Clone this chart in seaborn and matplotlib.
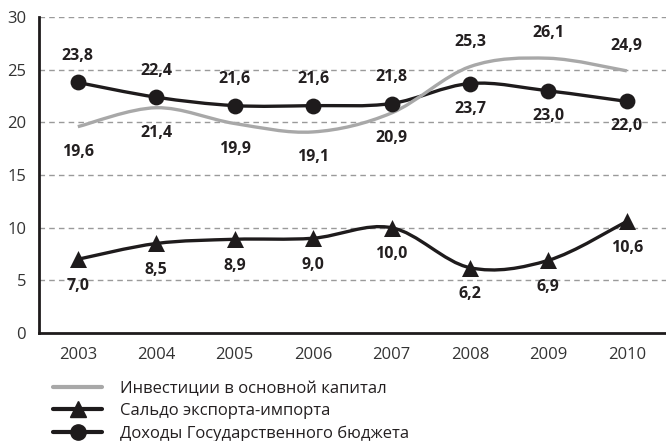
import numpy as np
import matplotlib
matplotlib.use("Agg")
import matplotlib.pyplot as plt
from matplotlib.path import Path
from matplotlib.patches import PathPatch
from matplotlib.lines import Line2D
import pandas as pd
import seaborn as sns

# data
years = ["2003", "2004", "2005", "2006", "2007", "2008", "2009", "2010"]
investments = [19.6, 21.4, 19.9, 19.1, 20.9, 25.3, 26.1, 24.9]
trade_balance = [7.0, 8.5, 8.9, 9.0, 10.0, 6.2, 6.9, 10.6]
budget_revenue = [23.8, 22.4, 21.6, 21.6, 21.8, 23.7, 23.0, 22.0]

names = ["Инвестиции в основной капитал",
         "Сальдо экспорта-импорта",
         "Доходы Государственного бюджета"]

sns.set_style("white")
plt.rcParams["font.family"] = ["Open Sans", "DejaVu Sans"]

df = pd.DataFrame({"x": np.arange(len(years)), "year": years,
                   "inv": investments, "trade": trade_balance,
                   "budget": budget_revenue})


def smooth_path(xs, ys):
    # excel-like smoothed line as cubic bezier segments
    pts = np.column_stack([xs, ys]).astype(float)
    n = len(pts)
    verts = [pts[0]]
    codes = [Path.MOVETO]
    for i in range(n - 1):
        p0 = pts[max(i - 1, 0)]
        p1 = pts[i]
        p2 = pts[i + 1]
        p3 = pts[min(i + 2, n - 1)]
        verts += [p1 + (p2 - p0) / 6, p2 - (p3 - p1) / 6, p2]
        codes += [Path.CURVE4] * 3
    return Path(verts, codes)


fig = plt.figure(figsize=(6.66, 4.41), dpi=100)
ax = fig.add_axes([0.058, 0.245, 0.942, 0.716])

gray = "#a8a8a8"
dark = "#1e1b1c"

ax.add_patch(PathPatch(smooth_path(df["x"], df["trade"]), fill=False,
                       edgecolor=dark, lw=2.4, zorder=2, capstyle="round"))
ax.add_patch(PathPatch(smooth_path(df["x"], df["budget"]), fill=False,
                       edgecolor=dark, lw=2.4, zorder=2, capstyle="round"))
ax.add_patch(PathPatch(smooth_path(df["x"], df["inv"]), fill=False,
                       edgecolor=gray, lw=2.4, zorder=3))

sns.scatterplot(data=df, x="x", y="trade", marker="^", s=150, color=dark,
                edgecolor=dark, linewidth=0, ax=ax, zorder=4, legend=False)
sns.scatterplot(data=df, x="x", y="budget", marker="o", s=130, color=dark,
                edgecolor=dark, linewidth=0, ax=ax, zorder=4, legend=False)

lab_kw = dict(ha="center", va="center", fontsize=11.5, fontweight="bold",
              color="#231f20", textcoords="offset points")
for i in range(len(years)):
    b, v, t = budget_revenue[i], investments[i], trade_balance[i]
    up = b > v
    ax.annotate(f"{b:.1f}".replace(".", ","), (i, b),
                xytext=(0, 19 if up else -18), **lab_kw)
    ax.annotate(f"{v:.1f}".replace(".", ","), (i, v),
                xytext=(0, -18 if up else 18), **lab_kw)
    ax.annotate(f"{t:.1f}".replace(".", ","), (i, t),
                xytext=(0, -19), **lab_kw)

ax.set_xlim(-0.5, 7.456)
ax.set_ylim(0, 30)
ax.set_yticks(range(0, 31, 5))
ax.set_xticks(df["x"])
ax.set_xticklabels(years)
ax.set_xticks(np.arange(-0.5, 8, 1), minor=True)
ax.tick_params(axis="x", which="major", length=0, pad=10, labelsize=12,
               labelcolor="#333333")
ax.tick_params(axis="x", which="minor", length=6, width=1.5, color=dark,
               direction="out")
ax.tick_params(axis="y", length=6, width=1.5, color=dark, direction="out",
               pad=3, labelsize=12, labelcolor="#333333")
ax.set_xlabel("")
ax.set_ylabel("")

for y in range(5, 31, 5):
    ax.axhline(y, color="#9a9a9a", lw=1, ls=(0, (4, 3)), zorder=1)

for s in ["top", "right"]:
    ax.spines[s].set_visible(False)
for s in ["left", "bottom"]:
    ax.spines[s].set_color(dark)
    ax.spines[s].set_linewidth(2)

handles = [Line2D([], [], color=gray, lw=3),
           Line2D([], [], color=dark, lw=3, marker="^", markersize=12),
           Line2D([], [], color=dark, lw=3, marker="o", markersize=11)]
fig.legend(handles, names, loc="upper left", bbox_to_anchor=(0.08, 0.136),
           frameon=False, fontsize=12, handlelength=2.95, handletextpad=1.08,
           labelspacing=0.37, borderpad=0, borderaxespad=0,
           labelcolor="#231f20")

fig.savefig("out.png", dpi=100)
